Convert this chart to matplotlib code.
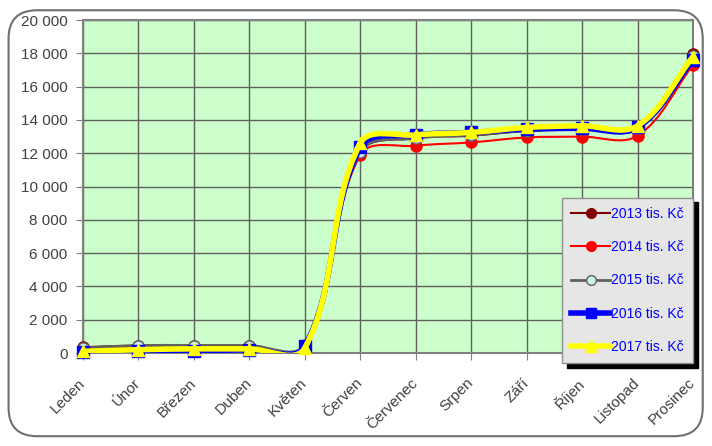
import matplotlib.pyplot as plt
import numpy as np
from matplotlib.path import Path
from matplotlib.patches import PathPatch, FancyBboxPatch
from matplotlib.lines import Line2D
from matplotlib.ticker import FuncFormatter

plt.rcParams['font.family'] = ['Liberation Sans', 'DejaVu Sans']

months = ["Leden", "Únor", "Březen", "Duben", "Květen", "Červen",
          "Červenec", "Srpen", "Září", "Říjen", "Listopad", "Prosinec"]

y2013 = [350, 450, 450, 450, 450, 12050, 12900, 13050, 13350, 13450, 13500, 17950]
y2014 = [300, 300, 300, 300, 300, 11900, 12450, 12650, 12950, 13000, 13050, 17300]
y2015 = [300, 450, 450, 450, 500, 12100, 12900, 13100, 13350, 13450, 13500, 17850]
y2016 = [50, 100, 150, 200, 400, 12350, 13100, 13250, 13450, 13500, 13550, 17600]
y2017 = [100, 200, 250, 250, 300, 12600, 13100, 13250, 13550, 13650, 13650, 17800]

series = [
    ("2013 tis. Kč", y2013, dict(color="#800000", lw=1.5, marker="o", ms=8, mfc="#800000", mec="#800000")),
    ("2014 tis. Kč", y2014, dict(color="#ff0000", lw=1.5, marker="o", ms=8, mfc="#ff0000", mec="#ff0000")),
    ("2015 tis. Kč", y2015, dict(color="#606060", lw=2, marker="o", ms=8, mfc="#c8f0f0", mec="#606060")),
    ("2016 tis. Kč", y2016, dict(color="#0000ff", lw=4, marker="s", ms=8, mfc="#0000ff", mec="#0000ff")),
    ("2017 tis. Kč", y2017, dict(color="#ffff00", lw=4, marker="^", ms=9, mfc="#ffff00", mec="#ffff00")),
]


def smooth_path(xs, ys, sx, sy, k=1 / 3):
    # smoothed line like Excel: bezier handles along the neighbour direction,
    # sized by the segment length (worked out in pixels, sx/sy = px per unit)
    pts = np.column_stack([np.asarray(xs) * sx, np.asarray(ys) * sy]).astype(float)
    n = len(pts)
    dirs = []
    for i in range(n):
        d = pts[min(i + 1, n - 1)] - pts[max(i - 1, 0)]
        dirs.append(d / np.hypot(*d))
    verts = [pts[0]]
    codes = [Path.MOVETO]
    for i in range(n - 1):
        seg = np.hypot(*(pts[i + 1] - pts[i]))
        c1 = pts[i] + dirs[i] * seg * k
        c2 = pts[i + 1] - dirs[i + 1] * seg * k
        verts += [c1, c2, pts[i + 1]]
        codes += [Path.CURVE4] * 3
    verts = np.array(verts) / [sx, sy]
    return Path(verts, codes)


fig = plt.figure(figsize=(7.12, 4.46), dpi=100)
frame = FancyBboxPatch((0.012, 0.022), 0.975, 0.955, boxstyle="round,pad=0,rounding_size=0.04",
                       transform=fig.transFigure, fc="white", ec="#707070", lw=1.5,
                       mutation_aspect=712 / 446, zorder=-10)
fig.patches.append(frame)
ax = fig.add_axes([0.1166, 0.2085, 0.8567, 0.7465])
ax.set_facecolor("#ccffcc")
ax.set_xlim(0, 11)
ax.set_ylim(0, 20000)

bb = ax.get_window_extent()
sx = bb.width / 11
sy = bb.height / 20000

x = np.arange(len(months))
handles = []
for i, (name, ys, st) in enumerate(series):
    patch = PathPatch(smooth_path(x, ys, sx, sy), fill=False, ec=st["color"], lw=st["lw"], zorder=3 + i,
                      capstyle="round", joinstyle="round")
    ax.add_patch(patch)
    ax.plot(x, ys, ls="none", marker=st["marker"], ms=st["ms"], mfc=st["mfc"], mec=st["mec"],
            zorder=3 + i, clip_on=False)
    handles.append(Line2D([], [], color=st["color"], lw=st["lw"], marker=st["marker"], ms=st["ms"] - 1,
                          mfc=st["mfc"], mec=st["mec"], label=name))

ax.set_yticks(np.arange(0, 20001, 2000))
ax.yaxis.set_major_formatter(FuncFormatter(lambda v, p: f"{int(v):,}".replace(",", " ")))
ax.set_xticks(x)
ax.set_xticklabels(months, rotation=45, ha="right", va="center", rotation_mode="anchor")
ax.grid(True, color="#606060", lw=1)
ax.set_axisbelow(True)
for s in ax.spines.values():
    s.set_color("#808080")
    s.set_linewidth(1.5)
ax.tick_params(axis="both", colors="#808080", labelcolor="#404040", labelsize=11, length=5)
ax.tick_params(axis="y", pad=6)
ax.tick_params(axis="x", pad=15)

leg = ax.legend(handles=handles, loc="upper right", bbox_to_anchor=(1.0, 0.467), fontsize=10,
                labelcolor="#0000ff", frameon=True, fancybox=False, handlelength=2.8, handletextpad=0.1,
                labelspacing=1.4, borderpad=0.65, borderaxespad=0,
                shadow={"color": "black", "alpha": 1, "ox": 3.5, "oy": -3.5})
leg.get_frame().set_facecolor("#e6e6e6")
leg.get_frame().set_edgecolor("#909090")
leg.get_frame().set_alpha(1)
leg.set_zorder(20)

fig.savefig("out.png", dpi=100)
